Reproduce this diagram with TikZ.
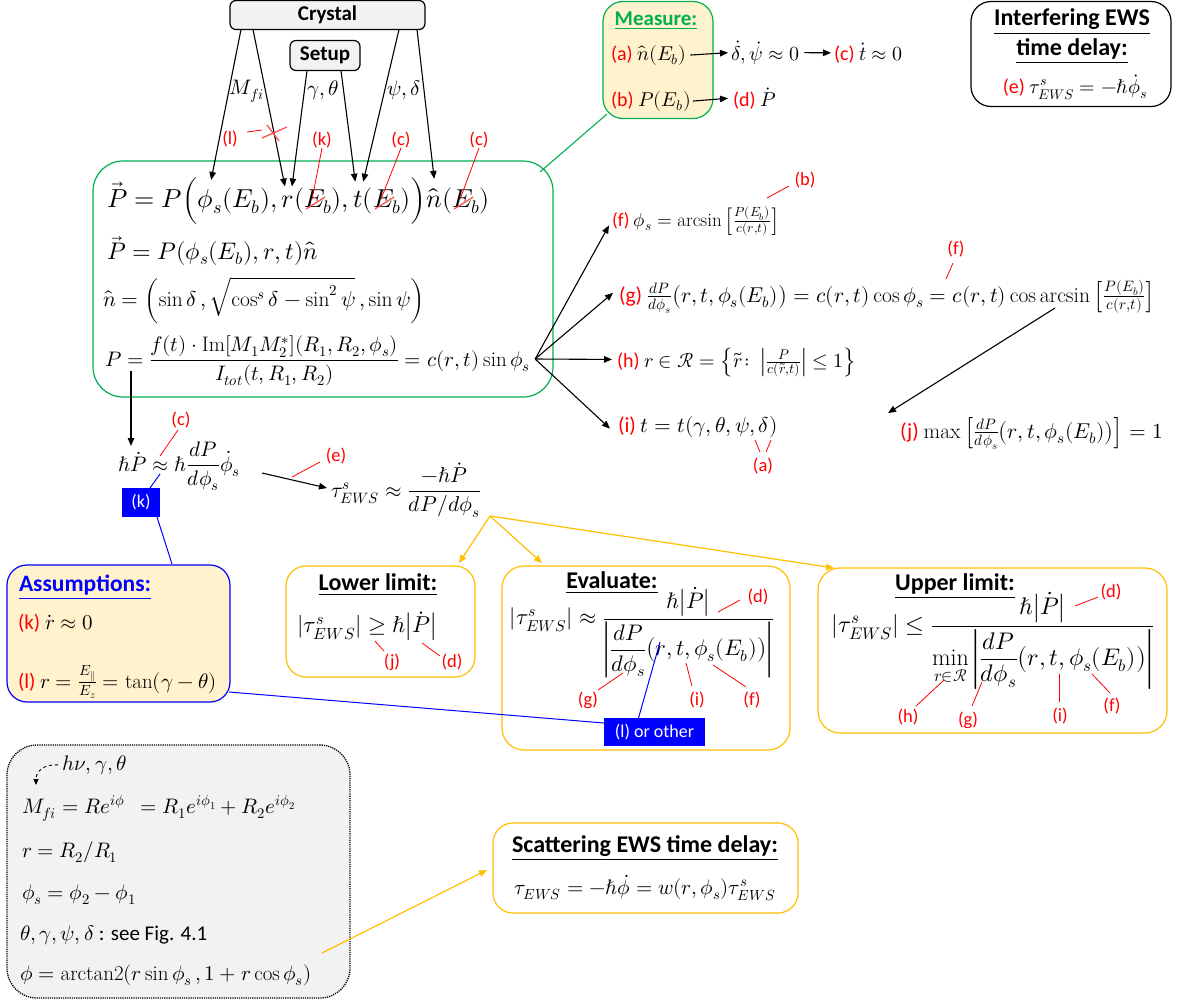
\documentclass[tikz,border=0pt]{standalone}
\usepackage{mathtools}
\usepackage{fontspec}
\usepackage{unicode-math}
\setmainfont{Carlito}
\setmathrm{Latin Modern Roman}
\usetikzlibrary{arrows.meta,calc}
\definecolor{grn}{HTML}{00B050}
\definecolor{org}{HTML}{FFC000}
\definecolor{yel}{HTML}{FFF2CC}
\definecolor{gry}{HTML}{F2F2F2}
\definecolor{blu}{HTML}{0000FF}
\definecolor{lred}{HTML}{FF5050}
\newcommand{\rd}[1]{\textcolor{red}{#1}}
\newcommand{\fs}[1]{\fontsize{#1}{#1}\selectfont}
\begin{document}
\begin{tikzpicture}[x=1pt,y=-1pt,
  every node/.style={inner sep=0pt,outer sep=0pt},
  box/.style={draw,line width=1.2pt,rounded corners=#1},
  box/.default=18pt,
  arr/.style={-{Triangle[length=8pt,width=6.5pt]},line width=1.1pt},
  rline/.style={red,line width=0.8pt},
  sl/.style={lred,line width=1.3pt},
  fA/.style={font=\fs{26}},
  ttl/.style={font=\fs{24}\bfseries},
  lab/.style={text=red,font=\fs{18.5}},
  yarr/.style={org,line width=1.2pt,-{Triangle[length=8pt,width=6.5pt]}},
  bl/.style={blu,line width=1pt}]
\useasboundingbox (0,0) rectangle (1177,1002);
\fill[white] (0,0) rectangle (1177,1002);

% ---------- top boxes
\node[box=6pt,fill=gry,minimum width=195pt,minimum height=29pt] (crystal) at (327.5,15) {};
\node[font=\fs{21}\bfseries] at (crystal) {Crystal};
\node[box=6pt,fill=gry,minimum width=70pt,minimum height=30pt] (setup) at (325,55.5) {};
\node[font=\fs{21}\bfseries] at (setup) {Setup};

% ---------- main green box
\node[box=30pt,draw=grn,minimum width=460pt,minimum height=236pt] (mainbox) at (323,279) {};

% line 1 built from pieces
\node[fA,anchor=base west] (l1a) at (107,207) {$\vec P = P\Bigl($};
\node[fA,anchor=base west] (l1phi) at (l1a.base east) {$\phi_s$};
\node[fA,anchor=base west] (l1b) at (l1phi.base east) {$(E_b),\,$};
\node[fA,anchor=base west] (l1r) at (l1b.base east) {$r$};
\node[fA,anchor=base west] (l1c) at (l1r.base east) {$($};
\node[fA,anchor=base west] (l1E1) at (l1c.base east) {$E_b$};
\node[fA,anchor=base west] (l1d) at (l1E1.base east) {$),\,$};
\node[fA,anchor=base west] (l1t) at (l1d.base east) {$t$};
\node[fA,anchor=base west] (l1e) at (l1t.base east) {$($};
\node[fA,anchor=base west] (l1E2) at (l1e.base east) {$E_b$};
\node[fA,anchor=base west] (l1f) at (l1E2.base east) {$)\Bigr)$};
\node[fA,anchor=base west] (l1n) at (l1f.base east) {$\hat n$};
\node[fA,anchor=base west] (l1g) at (l1n.base east) {$($};
\node[fA,anchor=base west] (l1E3) at (l1g.base east) {$E_b$};
\node[fA,anchor=base west] (l1h) at (l1E3.base east) {$)$};
\foreach \e in {l1E1,l1E2,l1E3}
  \draw[sl] ($(\e.base west)+(2,2)$) -- ($(\e.base west)+(21,-10)$);

\node[font=\fs{24},anchor=base west] (l2) at (107,259) {$\vec P = P(\phi_s(E_b), r, t)\hat n$};
\node[font=\fs{21.5},anchor=base west] (l3) at (103,306) {$\hat n = \left(\sin\delta\,, \sqrt{\cos^s\delta - \sin^2\psi}\,, \sin\psi\right)$};
\node[font=\fs{21},anchor=base west] (l4) at (105,366) {$P = \dfrac{f(t)\cdot \mathrm{Im}[M_1M_2^*](R_1,R_2,\phi_s)}{I_{tot}(t,R_1,R_2)} = c(r,t)\sin\phi_s$};
\coordinate (apex) at ($(l4.base east)+(5,-7)$);

% arrows from Crystal / Setup
\draw[arr] ($(crystal.south west)+(11,0)$) -- ($(l1phi.north)+(1,-9)$);
\draw[arr] ($(crystal.south west)+(23,0)$) -- ($(l1r.north)+(-3,-9)$);
\draw[arr] ($(setup.south west)+(17,0)$) -- ($(l1r.north)+(4,-9)$);
\draw[arr] ($(setup.south west)+(51,0)$) -- ($(l1t.north)+(-3,-9)$);
\draw[arr] ($(crystal.south west)+(169,0)$) -- ($(l1t.north)+(5,-9)$);
\draw[arr] ($(crystal.south west)+(187,0)$) -- ($(l1n.north)+(0,-9)$);
\node[font=\fs{21}] (lbM) at (247,91) {$M_{fi}$};
\node[font=\fs{21}] (lbG) at (323,90) {$\gamma,\theta$};
\node[font=\fs{21}] (lbP) at (404,90) {$\psi,\delta$};

% red labels on top
\node[lab] (rl) at (230,139) {(l)};
\draw[rline] (247,132) -- (262,130);
\draw[sl] (262,138) -- (287,127);
\draw[sl] (267,125) -- (279,141);
\node[lab] (rk) at (322,140) {(k)};
\draw[rline] (rk.south) -- ($(l1E1.base west)+(8,-8)$);
\node[lab] (rc1) at (401,140) {(c)};
\draw[rline] (rc1.south) -- ($(l1E2.base west)+(8,-8)$);
\node[lab] (rc2) at (479,140) {(c)};
\draw[rline] (rc2.south) -- ($(l1E3.base west)+(8,-8)$);

% ---------- Measure box
\node[box=20pt,draw=grn,fill=yel,minimum width=110pt,minimum height=117pt] (measure) at (658,60) {};
\node[text=grn,font=\fs{21}\bfseries] (mt) at (656,21) {\underline{Measure:}};
\node[font=\fs{20},anchor=base west] (ma) at (611,60) {\rd{(a)} $\hat n(E_b)$};
\node[font=\fs{20},anchor=base west] (mdd) at (731,60) {$\dot\delta,\dot\psi\approx 0$};
\node[font=\fs{20},anchor=base west] (mc) at (834,60) {\rd{(c)} $\dot t\approx 0$};
\node[font=\fs{20},anchor=base west] (mb) at (611,106) {\rd{(b)} $P(E_b)$};
\node[font=\fs{20},anchor=base west] (md) at (733,106) {\rd{(d)} $\dot P$};
\draw[arr] ($(ma.east)+(4,0)$) -- ($(mdd.west)+(-3,0)$);
\draw[arr] ($(mdd.east)+(5,0)$) -- ($(mc.west)+(-3,0)$);
\draw[arr] ($(mb.east)+(2,0)$) -- ($(md.west)+(-5,0)$);
\draw[grn,line width=1.1pt] (540,172) -- (607,114);

% ---------- Interfering EWS box
\node[box=20pt,minimum width=200pt,minimum height=105pt] (ews) at (1071,54) {};
\node[ttl] (ewst1) at (1072,22) {\underline{Interfering EWS}};
\node[ttl] (ewst2) at (1072,51) {\underline{time delay:}};
\node[font=\fs{20}] (ewsf) at (1075,87) {\rd{(e)} $\tau^s_{EWS} = -\hbar\dot\phi_s$};

% ---------- right-hand formulas
\node[font=\fs{19},anchor=base west] (ff) at (612,226) {\rd{(f)} $\phi_s = \arcsin\left[\frac{P(E_b)}{c(r,t)}\right]$};
\node[font=\fs{21.5},anchor=base west] (fg) at (619,302) {\rd{(g)} $\frac{dP}{d\phi_s}\bigl(r,t,\phi_s(E_b)\bigr) = c(r,t)\cos\phi_s = c(r,t)\cos\arcsin\left[\frac{P(E_b)}{c(r,t)}\right]$};
\node[font=\fs{20},anchor=base west] (fh) at (617,367) {\rd{(h)} $r\in\mathcal{R} = \left\{\tilde r\colon \left|\frac{P}{c(\tilde r,t)}\right| \le 1\right\}$};
\node[font=\fs{21.5},anchor=base west] (fi) at (618,432) {\rd{(i)} $t = t(\gamma,\theta,\psi,\delta)$};
\node[font=\fs{21.5},anchor=base west] (fj) at (900,438) {\rd{(j)} $\max\left[\frac{dP}{d\phi_s}\bigl(r,t,\phi_s(E_b)\bigr)\right] = 1$};
\draw[arr] (apex) -- ($(ff.west)+(-3,4)$);
\draw[arr] (apex) -- ($(fg.west)+(-6,-4)$);
\draw[arr] (apex) -- ($(fh.west)+(-5,-3)$);
\draw[arr] (apex) -- ($(fi.west)+(-8,2)$);
\draw[arr] (1055,308) -- ($(fj.north west)+(-12,-4)$);
\node[lab] (fb) at (805,180) {(b)};
\draw[rline] (789,186) -- (767,198);
\node[lab] (ff2) at (956,249) {(f)};
\draw[rline] (953,263) -- (946,279);
\node[lab] (fa) at (763,466) {(a)};
\draw[rline] (755,440) -- (760,452);
\draw[rline] (771,440) -- (766,452);

% ---------- middle chain
\draw[arr] (131,371) -- (131,446);
\node[font=\fs{21},anchor=base west] (hp) at (118,471) {$\hbar\dot P \approx \hbar\dfrac{dP}{d\phi_s}\dot\phi_s$};
\node[lab] (mcl) at (181,420) {(c)};
\draw[rline] (178,430) -- (160,456);
\node[font=\fs{21.5},anchor=base west] (tau) at (331,497) {$\tau^s_{EWS}\approx\dfrac{-\hbar\dot P}{dP/d\phi_s}$};
\draw[arr] (262,473) -- (327,488);
\node[lab] (mel) at (336,456) {(e)};
\draw[rline] (292,477) -- (320,462);
\node[fill=blu,text=white,font=\fs{18},minimum width=38pt,minimum height=29pt] (kbox) at (141,502.5) {(k)};
\draw[bl] (kbox.north) ++(9,0) -- (160,474);
\draw[bl] ($(kbox.south)+(16,0)$) -- (172,564);

% ---------- yellow fork
\coordinate (fork) at (490,516);
\draw[yarr] (fork) -- (459,563);
\draw[yarr] (fork) -- (542,563);
\draw[yarr] (fork) -- (834,568);

% ---------- Assumptions
\node[box=20pt,draw=blu,fill=yel,minimum width=223pt,minimum height=137pt] (assum) at (118.5,633.5) {};
\node[text=blu,font=\fs{23.5}\bfseries,anchor=west] (at) at (19,587) {\underline{Assumptions:}};
\node[font=\fs{21},anchor=base west] (ak) at (18,629) {\rd{(k)} $\dot r\approx 0$};
\node[font=\fs{21},anchor=base west] (al) at (18,688) {\rd{(l)} $r = \frac{E_\parallel}{E_z} = \tan(\gamma-\theta)$};

% ---------- Lower limit
\node[box=20pt,draw=org,minimum width=189pt,minimum height=111pt] (lower) at (380.5,621.5) {};
\node[ttl] (lowt) at (378,585) {\underline{Lower limit:}};
\node[font=\fs{23}] (lowf) at (367,626) {$|\tau^s_{EWS}| \geq \hbar\bigl|\dot P\bigr|$};
\node[lab] (lj) at (392,662) {(j)};
\draw[rline] (384,651) -- (375,641);
\node[lab] (ld) at (452,662) {(d)};
\draw[rline] (440,656) -- (422,643);

% ---------- Evaluate
\node[box=22pt,draw=org,minimum width=288pt,minimum height=184pt] (eval) at (646,658) {};
\node[ttl] (evt) at (612,583) {\underline{Evaluate:}};
\node[font=\fs{22.5}] (evf) at (642,633) {$|\tau^s_{EWS}| \approx \dfrac{\hbar\bigl|\dot P\bigr|}{\left|\dfrac{dP}{d\phi_s}\bigl(r,t,\phi_s(E_b)\bigr)\right|}$};
\node[lab] (ed) at (758,597) {(d)};
\draw[rline] (718,612) -- (740,600);
\node[lab] (eg) at (588,700) {(g)};
\draw[rline] (598,690) -- (623,673);
\node[lab] (ei) at (697,700) {(i)};
\draw[rline] (692,686) -- (686,663);
\node[lab] (ef) at (752,700) {(f)};
\draw[rline] (746,687) -- (713,665);
\node[fill=blu,text=white,font=\fs{18},minimum width=101pt,minimum height=28pt] (lbox) at (654.5,732) {(l) or other};
\draw[bl] ($(lbox.north)+(-16,0)$) -- (660,642);
\draw[bl] ($(assum.south east)+(-1,-10)$) -- ($(lbox.west)+(0,-9)$);

% ---------- Upper limit
\node[box=22pt,draw=org,minimum width=349pt,minimum height=165pt] (upper) at (992.5,650.5) {};
\node[ttl] (upt) at (955,586) {\underline{Upper limit:}};
\node[font=\fs{24}] (upf) at (993,641) {$|\tau^s_{EWS}| \le \dfrac{\hbar\bigl|\dot P\bigr|}{\min\limits_{r\in\mathcal{R}}\left|\dfrac{dP}{d\phi_s}\bigl(r,t,\phi_s(E_b)\bigr)\right|}$};
\node[lab] (ud) at (1111,592) {(d)};
\draw[rline] (1075,606) -- (1098,597);
\node[lab] (uh) at (908,717) {(h)};
\draw[rline] (916,706) -- (944,680);
\node[lab] (ug) at (968,720) {(g)};
\draw[rline] (972,706) -- (982,682);
\node[lab] (ui) at (1060,716) {(i)};
\draw[rline] (1059,702) -- (1059,674);
\node[lab] (uf) at (1112,706) {(f)};
\draw[rline] (1110,693) -- (1092,674);

% ---------- bottom-left definitions box
\node[box=30pt,densely dotted,line width=1.3pt,fill=gry,minimum width=343pt,minimum height=253pt] (defs) at (178.5,871.5) {};
\node[font=\fs{21},anchor=base west] (dh) at (62,770) {$h\nu,\gamma,\theta$};
\draw[dashed,line width=0.9pt,-{Triangle[length=6pt,width=5pt]}] ($(dh.west)+(-4,0)$) .. controls (44,764) and (36,771) .. (36,785);
\node[font=\fs{21},anchor=base west] (dm) at (22,813) {$M_{fi} = Re^{i\phi}\ \ = R_1e^{i\phi_1} + R_2e^{i\phi_2}$};
\node[font=\fs{21},anchor=base west] (dr) at (22,857) {$r = R_2/R_1$};
\node[font=\fs{21},anchor=base west] (dp) at (22,899) {$\phi_s = \phi_2 - \phi_1$};
\node[font=\fs{21},anchor=base west] (dt) at (20,940) {$\theta,\gamma,\psi,\delta$ : see Fig. 4.1};
\node[font=\fs{21},anchor=base west] (dphi) at (20,980) {$\phi = \mathrm{arctan2}(r\sin\phi_s\,, 1 + r\cos\phi_s)$};

% ---------- Scattering box
\node[box=20pt,draw=org,minimum width=305pt,minimum height=90pt] (scat) at (645.5,868) {};
\node[ttl] (sct) at (645,848) {\underline{Scattering EWS time delay:}};
\node[font=\fs{21}] (scf) at (645,888) {$\tau_{EWS} = -\hbar\dot\phi = w(r,\phi_s)\tau^s_{EWS}$};
\draw[yarr] (322,953) -- ($(scat.west)+(-6,2)$);
\end{tikzpicture}
\end{document}
